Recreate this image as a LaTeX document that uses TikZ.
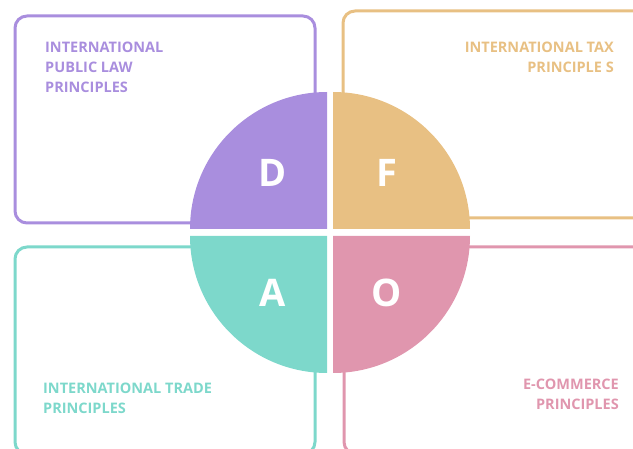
\documentclass[tikz,border=0pt]{standalone}
\usepackage{fontspec}
\setmainfont{Open Sans}
\usetikzlibrary{positioning}
\definecolor{Lavender}{HTML}{A98EDE}
\definecolor{Sand}{HTML}{E8C083}
\definecolor{Mint}{HTML}{7DD8CB}
\definecolor{Rose}{HTML}{E096AE}

\begin{document}
\begin{tikzpicture}[x=1pt,y=1pt,font=\bfseries\fontsize{14.5}{20}\selectfont]
    \useasboundingbox (0,0) rectangle (633,448);
    % four frames behind the circle
    \node[draw=Lavender,line width=3pt,rounded corners=12pt,minimum width=300pt,minimum height=207pt] (lawbox) at (165,328.5) {};
    \node[draw=Sand,line width=3pt,rounded corners=12pt,minimum width=307pt,minimum height=207pt] (taxbox) at (496.5,333.5) {};
    \node[draw=Mint,line width=3pt,rounded corners=12pt,minimum width=300pt,minimum height=207pt] (tradebox) at (165,97.5) {};
    \node[draw=Rose,line width=3pt,rounded corners=12pt,minimum width=306pt,minimum height=207pt] (ecombox) at (497,97.5) {};
    % quarter discs
    \foreach \c/\x/\y/\a in {Lavender/327/219/90,Sand/333/219/0,Mint/327/212/180,Rose/333/212/270}{
      \fill[\c] (\x,\y) -- ++(\a:137) arc[start angle=\a,delta angle=90,radius=137] -- cycle;}
    \foreach \n/\t/\x/\y in {qd/D/273/275,qf/F/387/275,qa/A/273/155,qo/O/387/155}{
      \node[white,font=\bfseries\fontsize{38}{40}\selectfont] (\n) at (\x,\y) {\t};}
    % labels
    \node[Lavender,align=left,anchor=north west,inner sep=0] (lawtext) at (45,406) {INTERNATIONAL\\PUBLIC LAW\\PRINCIPLES};
    \node[Sand,align=right,anchor=north east,inner sep=0] (taxtext) at (614,406) {INTERNATIONAL TAX\\PRINCIPLE S};
    \node[Mint,align=left,anchor=north west,inner sep=0] (tradetext) at (43,65) {INTERNATIONAL TRADE\\PRINCIPLES};
    \node[Rose,align=right,anchor=north east,inner sep=0] (ecomtext) at (619,69) {E-COMMERCE\\PRINCIPLES};
\end{tikzpicture}
\end{document}
